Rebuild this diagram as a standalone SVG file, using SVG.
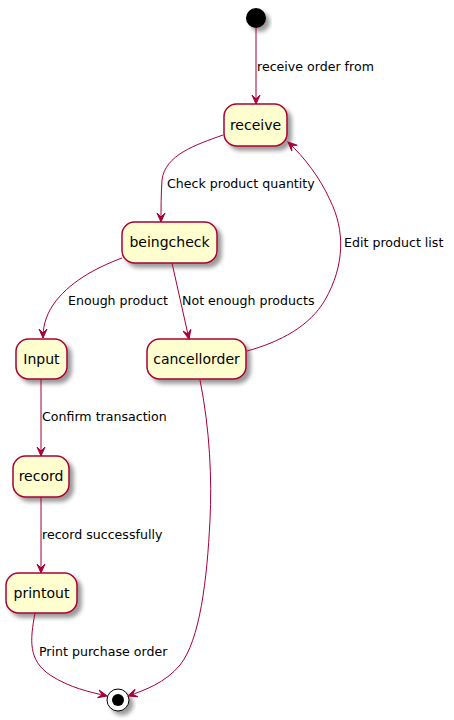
<svg xmlns="http://www.w3.org/2000/svg" width="454" height="720" viewBox="0 0 454 720">
<defs>
<filter id="sh" x="-20%" y="-20%" width="150%" height="160%">
<feDropShadow dx="4" dy="4" stdDeviation="2" flood-color="#000" flood-opacity="0.4"/>
</filter>
<marker id="arr" markerUnits="userSpaceOnUse" markerWidth="12" markerHeight="12" viewBox="-10 -6 12 12" refX="0" refY="0" orient="auto">
<path d="M0,0 L-9,-4 L-5,0 L-9,4 Z" fill="#A80036" stroke="#A80036" stroke-width="1"/>
</marker>
<style>
.st{fill:#FEFECE;stroke:#A80036;stroke-width:1.5;filter:url(#sh)}
.nm{font-family:"DejaVu Sans",sans-serif;font-size:14px;fill:#000;text-anchor:middle}
.lb{font-family:"DejaVu Sans",sans-serif;font-size:12.6px;fill:#000}
.e{fill:none;stroke:#A80036;stroke-width:1;marker-end:url(#arr)}
</style>
</defs>
<rect width="454" height="720" fill="#fff"/>
<g id="start"><circle cx="256" cy="18" r="10" fill="#000" filter="url(#sh)"/></g>
<g id="receive"><rect class="st" x="224" y="104" width="63" height="42" rx="12.5"/><text class="nm" x="255.5" y="130">receive</text></g>
<g id="beingcheck"><rect class="st" x="122" y="222" width="95" height="41" rx="12.5"/><text class="nm" x="169.5" y="247">beingcheck</text></g>
<g id="Input"><rect class="st" x="16" y="339" width="51" height="40" rx="12.5"/><text class="nm" x="41.5" y="364">Input</text></g>
<g id="cancellorder"><rect class="st" x="147" y="339" width="99" height="40" rx="12.5"/><text class="nm" x="196.5" y="364">cancellorder</text></g>
<g id="record"><rect class="st" x="13" y="456" width="56" height="41" rx="12.5"/><text class="nm" x="41" y="481">record</text></g>
<g id="printout"><rect class="st" x="6" y="573" width="71" height="40" rx="12.5"/><text class="nm" x="41.5" y="598">printout</text></g>
<g id="end"><circle cx="118" cy="700" r="11" fill="#fff" stroke="#000" stroke-width="1" filter="url(#sh)"/><circle cx="118" cy="700" r="6" fill="#000"/></g>
<g id="connectors">
<path class="e" d="M256,28 L256,104"/>
<text class="lb" x="257" y="71">receive order from</text>
<path class="e" d="M223,135 C195,145 165,155 162,180 C161,195 161,208 161,222"/>
<text class="lb" x="167" y="188">Check product quantity</text>
<path class="e" d="M122,258 C95,268 68,283 53,305 C45,317 43,328 43,338"/>
<text class="lb" x="68" y="305">Enough product</text>
<path class="e" d="M172,263 L189,339"/>
<text class="lb" x="182" y="305">Not enough products</text>
<path class="e" d="M247,351 C280,342 310,326 325,300 C345,265 345,230 330,200 C320,178 305,158 288,142"/>
<text class="lb" x="344" y="247">Edit product list</text>
<path class="e" d="M41,379 L41,456"/>
<text class="lb" x="42" y="421">Confirm transaction</text>
<path class="e" d="M41,497 L41,573"/>
<text class="lb" x="42" y="539">record successfully</text>
<path class="e" d="M35,613 C30,640 28,660 50,675 C70,688 90,692 107,696"/>
<text class="lb" x="39" y="656">Print purchase order</text>
<path class="e" d="M200,380 C210,430 212,480 210,520 C207,580 200,640 180,665 C165,683 145,690 128,696"/>
</g>
</svg>
